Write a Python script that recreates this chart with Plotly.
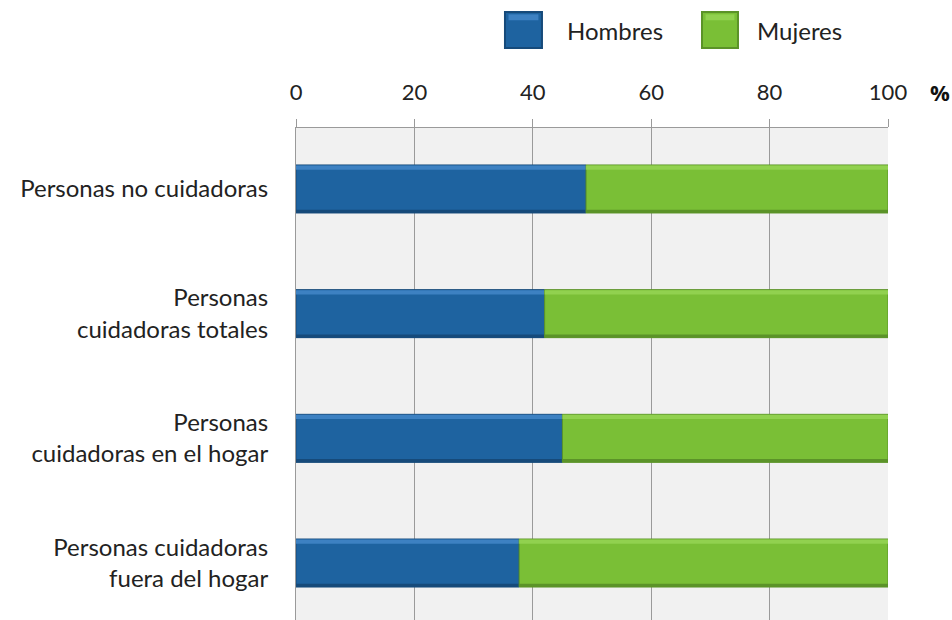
import plotly.graph_objects as go

categories = [
    "Personas no cuidadoras",
    "Personas<br>cuidadoras totales",
    "Personas<br>cuidadoras en el hogar",
    "Personas cuidadoras<br>fuera del hogar",
]
hombres = [49, 42, 45, 37.7]
mujeres = [51, 58, 55, 62.3]
x_ticks = [0, 20, 40, 60, 80, 100]

BLUE, BLUE_LIGHT, BLUE_DARK = "#1e63a0", "#3d81c2", "#164a7a"
GREEN, GREEN_LIGHT, GREEN_DARK = "#7abf36", "#91d14f", "#5b9328"
FONT = "Lato"

BAR_W = 0.385
TOP_W = 0.034
BOT_W = 0.026

fig = go.Figure()
mujeres_base = hombres
for vals, base, main, light, dark, name in [
    (hombres, [0] * len(hombres), BLUE, BLUE_LIGHT, BLUE_DARK, "Hombres"),
    (mujeres, mujeres_base, GREEN, GREEN_LIGHT, GREEN_DARK, "Mujeres"),
]:
    # main bar body
    fig.add_trace(go.Bar(
        y=categories, x=vals, base=base, orientation="h", name=name,
        marker=dict(color=main, line=dict(color=dark, width=1)),
        width=BAR_W, offset=-BAR_W / 2, showlegend=False,
    ))
    # bevel: light top edge
    fig.add_trace(go.Bar(
        y=categories, x=vals, base=base, orientation="h", name=name,
        marker=dict(color=light, line=dict(width=0)),
        width=TOP_W, offset=-BAR_W / 2 + 0.004, showlegend=False, hoverinfo="skip",
    ))
    # bevel: dark bottom edge
    fig.add_trace(go.Bar(
        y=categories, x=vals, base=base, orientation="h", name=name,
        marker=dict(color=dark, line=dict(width=0)),
        width=BOT_W, offset=BAR_W / 2 - BOT_W, showlegend=False, hoverinfo="skip",
    ))

# legend drawn by hand (big bevelled squares)
def legend_box(x0, x1, color, light, edge):
    fig.add_shape(type="rect", xref="paper", yref="paper",
                  x0=x0, x1=x1, y0=1.1626, y1=1.2358,
                  fillcolor=color, line=dict(color=edge, width=2), layer="above")
    fig.add_shape(type="rect", xref="paper", yref="paper",
                  x0=x0 + 0.006, x1=x1 - 0.006, y0=1.2190, y1=1.2310,
                  fillcolor=light, line=dict(width=0), layer="above")

legend_box(0.353, 0.4155, BLUE, BLUE_LIGHT, BLUE_DARK)
legend_box(0.6858, 0.7466, GREEN, GREEN_LIGHT, GREEN_DARK)
for xpos, txt in [(0.4544, "Hombres"), (0.7753, "Mujeres")]:
    fig.add_annotation(text=txt, xref="paper", yref="paper", x=xpos, y=1.199,
                       xanchor="left", yanchor="middle", showarrow=False,
                       font=dict(size=24, color="#222222", family=FONT))

fig.add_annotation(text="<b>%</b>", xref="paper", yref="paper", x=1.088, y=1.073,
                   xanchor="center", yanchor="middle", showarrow=False,
                   font=dict(size=22, color="#111111", family="Open Sans"))

fig.update_layout(
    width=952, height=620,
    barmode="overlay",
    margin=dict(l=296, r=64, t=128, b=0),
    paper_bgcolor="white",
    plot_bgcolor="#f1f1f1",
    font=dict(family=FONT, size=24, color="#222222"),
    xaxis=dict(
        side="top", range=[0, 100], tickvals=x_ticks,
        showgrid=True, gridcolor="#9a9a9a", gridwidth=1,
        zeroline=False, showline=True, linecolor="#9a9a9a", linewidth=1,
        ticks="outside", ticklen=8, tickcolor="#9a9a9a",
        ticklabelstandoff=10,
        tickfont=dict(size=22, family=FONT, color="#222222"),
        fixedrange=True,
    ),
    yaxis=dict(
        categoryorder="array", categoryarray=categories,
        range=[3.457, -0.489],
        showgrid=False, zeroline=False,
        showline=True, linecolor="#9a9a9a", linewidth=1,
        ticks="", ticklabelstandoff=22,
        tickfont=dict(size=24, family=FONT, color="#222222"),
        fixedrange=True,
    ),
)

fig.write_html("out.html", config={"displayModeBar": False},
               post_script="document.body.style.margin='0';")
